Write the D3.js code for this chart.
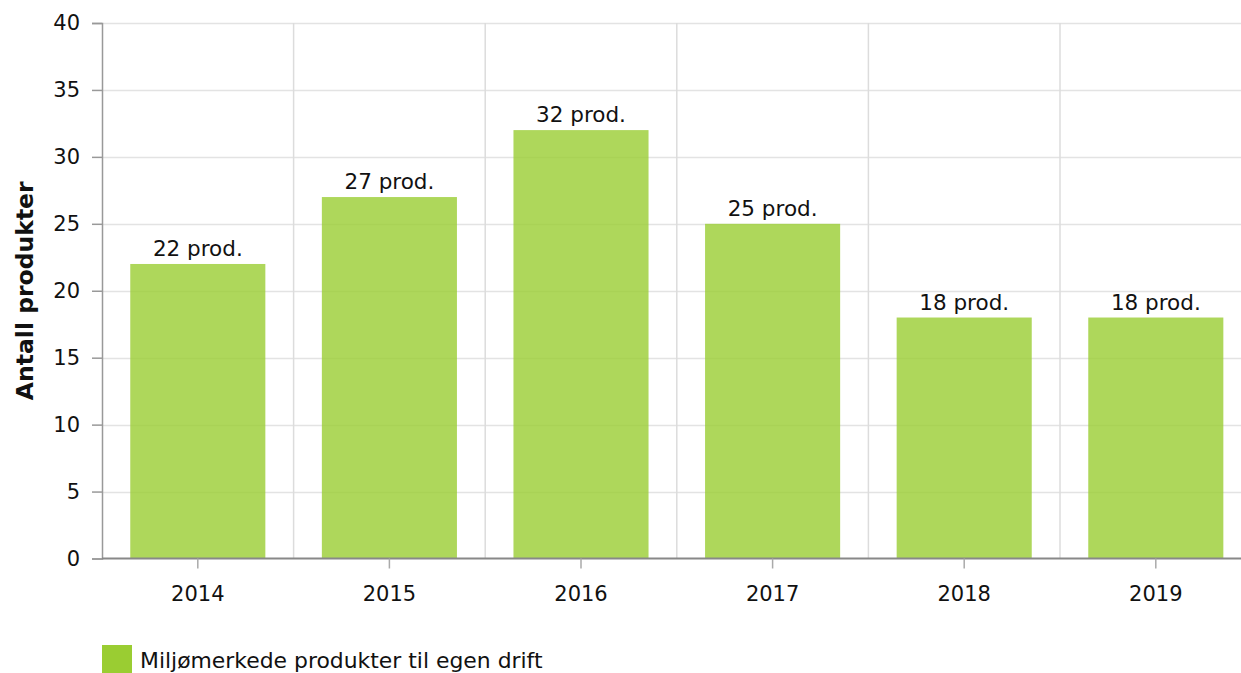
<!DOCTYPE html>
<html>
<head>
<meta charset="utf-8">
<script src="https://cdn.jsdelivr.net/npm/d3@7"></script>
<style>
  body { margin: 0; background: #fff; }
  svg { display: block; font-family: "DejaVu Sans", Verdana, sans-serif; }
</style>
</head>
<body>
<script>
const years = ["2014", "2015", "2016", "2017", "2018", "2019"];
const counts = [22, 27, 32, 25, 18, 18];
const yTicks = [0, 5, 10, 15, 20, 25, 30, 35, 40];
const seriesName = "Miljømerkede produkter til egen drift";
const yTitle = "Antall produkter";

const width = 1241;
const height = 673;
const margin = { left: 102, top: 23, bottom: 114 };
const plotRight = margin.left + 6 * 191.6;

const svg = d3.select("body").append("svg")
    .attr("width", width)
    .attr("height", height);

const x = d3.scaleBand()
    .domain(years)
    .range([margin.left, plotRight])
    .paddingInner(0.295)
    .paddingOuter(0.1475);

const y = d3.scaleLinear()
    .domain([0, 40])
    .range([height - margin.bottom - 0.5, margin.top]);

const step = x.step();

// horizontal grid
svg.append("g")
  .selectAll("line")
  .data(yTicks.slice(1))
  .join("line")
    .attr("x1", margin.left)
    .attr("x2", width)
    .attr("y1", d => Math.round(y(d)) + 0.5)
    .attr("y2", d => Math.round(y(d)) + 0.5)
    .attr("stroke", "#e3e3e3")
    .attr("stroke-width", 1.5);

// vertical grid at category boundaries
svg.append("g")
  .selectAll("line")
  .data(years.slice(1))
  .join("line")
    .attr("x1", d => x(d) - step * x.paddingInner() / 2)
    .attr("x2", d => x(d) - step * x.paddingInner() / 2)
    .attr("y1", y(40))
    .attr("y2", y(0))
    .attr("stroke", "#dcdcdc")
    .attr("stroke-width", 1.5);

// bars
svg.append("g")
  .selectAll("rect")
  .data(years)
  .join("rect")
    .attr("x", d => x(d))
    .attr("width", x.bandwidth())
    .attr("y", (d, i) => y(counts[i]))
    .attr("height", (d, i) => y(0) - y(counts[i]))
    .attr("fill", "#9acd32")
    .attr("fill-opacity", 0.8);

// value labels
svg.append("g")
    .attr("text-anchor", "middle")
    .style("font-size", "21.5px")
    .attr("fill", "#111")
  .selectAll("text")
  .data(years)
  .join("text")
    .attr("x", d => x(d) + x.bandwidth() / 2)
    .attr("y", (d, i) => y(counts[i]) - 8)
    .text((d, i) => `${counts[i]} prod.`);

// y axis
const yAxis = svg.append("g")
    .attr("transform", `translate(${margin.left},0)`)
    .call(d3.axisLeft(y).tickValues(yTicks).tickSize(10).tickPadding(12));
yAxis.select(".domain").attr("stroke", "#999").attr("stroke-width", 1.5);
yAxis.selectAll(".tick line").attr("stroke", "#999").attr("stroke-width", 1.5);
yAxis.selectAll(".tick text")
    .style("font-size", "21px")
    .style("font-family", "DejaVu Sans, sans-serif")
    .attr("fill", "#111");

// x axis
const xAxis = svg.append("g")
    .attr("transform", `translate(0,${y(0)})`)
    .call(d3.axisBottom(x).tickSize(10).tickPadding(18).tickSizeOuter(0));
xAxis.select(".domain")
    .attr("d", `M${margin.left},0H${width}`)
    .attr("stroke", "#888").attr("stroke-width", 2);
xAxis.selectAll(".tick line").attr("stroke", "#aaa").attr("stroke-width", 1.5);
xAxis.selectAll(".tick text")
    .style("font-size", "21px")
    .style("font-family", "DejaVu Sans, sans-serif")
    .attr("fill", "#111");

// y title
svg.append("text")
    .attr("transform", `translate(33,${(y(0) + y(40)) / 2}) rotate(-90)`)
    .attr("text-anchor", "middle")
    .style("font-size", "23.5px")
    .style("font-weight", "bold")
    .attr("fill", "#111")
    .text(yTitle);

// legend
const legend = svg.append("g").attr("transform", "translate(102,645)");
legend.append("rect")
    .attr("width", 30)
    .attr("height", 30)
    .attr("fill", "#9acd32");
legend.append("text")
    .attr("x", 38)
    .attr("y", 23)
    .style("font-size", "21.9px")
    .attr("fill", "#111")
    .text(seriesName);
</script>
</body>
</html>
